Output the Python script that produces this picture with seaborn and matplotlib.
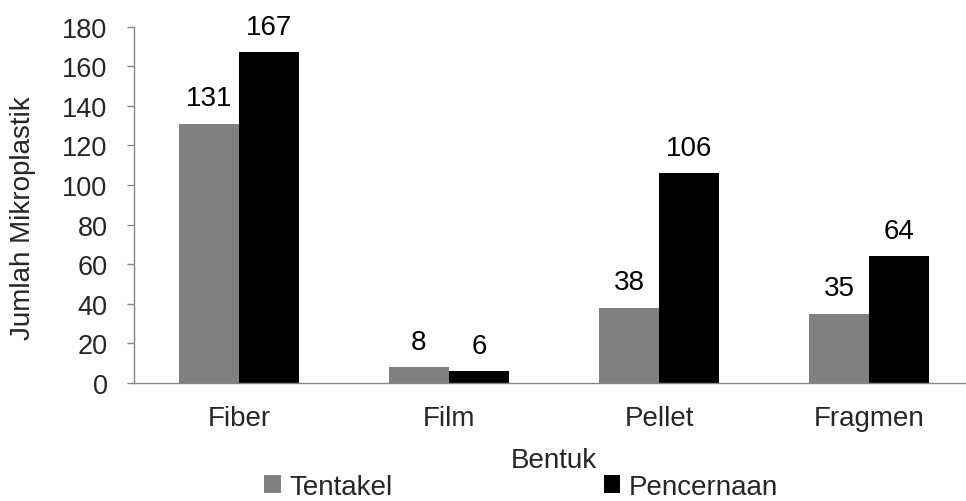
import matplotlib
matplotlib.use("Agg")
import matplotlib.pyplot as plt
import seaborn as sns
import pandas as pd

# Microplastic counts by shape and organ
bentuk = ["Fiber", "Film", "Pellet", "Fragmen"]
tentakel = [131, 8, 38, 35]
pencernaan = [167, 6, 106, 64]
series_names = ["Tentakel", "Pencernaan"]
y_ticks = [0, 20, 40, 60, 80, 100, 120, 140, 160, 180]

df = pd.DataFrame({
    "Bentuk": bentuk * 2,
    "Jumlah": tentakel + pencernaan,
    "Organ": [series_names[0]] * len(bentuk) + [series_names[1]] * len(bentuk),
})

sns.set_style("white")
plt.rcParams["font.family"] = ["Liberation Sans", "DejaVu Sans"]
FS = 20

W, H = 966, 502
fig = plt.figure(figsize=(W / 100, H / 100), dpi=100)
left, right, bottom, top = 134, 974, 384, 27.7
ax = fig.add_axes([left / W, (H - bottom) / H, (right - left) / W, (bottom - top) / H])

palette = {"Tentakel": "#808080", "Pencernaan": "#000000"}
sns.barplot(data=df, x="Bentuk", y="Jumlah", hue="Organ", order=bentuk,
            hue_order=series_names, palette=palette, width=0.572, gap=0,
            saturation=1, linewidth=0, ax=ax)

for cont in ax.containers:
    ax.bar_label(cont, padding=9, fontsize=FS, color="black")

ax.set_ylim(0, 180)
ax.set_xlim(-0.5, len(bentuk) - 0.5)
ax.set_yticks(y_ticks)
ax.set_yticklabels([str(v) for v in y_ticks], fontsize=19.5)

# category boundaries carry the tick marks on the x axis
ax.set_xticks(range(len(bentuk)))
ax.set_xticklabels(bentuk, fontsize=FS)
ax.set_xticks([i - 0.5 for i in range(len(bentuk) + 1)], minor=True)
ax.tick_params(axis="x", which="major", length=0, pad=16)
ax.tick_params(axis="x", which="minor", length=5, width=1, color="#868686", direction="out")
ax.tick_params(axis="y", length=5, width=1, color="#868686", direction="out", pad=14, left=True)

for side in ["top", "right"]:
    ax.spines[side].set_visible(False)
for side in ["left", "bottom"]:
    ax.spines[side].set_color("#868686")
    ax.spines[side].set_linewidth(1)

ax.set_xlabel("Bentuk", fontsize=FS)
ax.xaxis.label.set_va("center")
ax.xaxis.set_label_coords(0.5, (bottom - 461) / (bottom - top))
ax.set_ylabel("Jumlah Mikroplastik", fontsize=FS)
ax.yaxis.label.set_va("center")
ax.yaxis.set_label_coords((23 - left) / (right - left), (bottom - 218) / (bottom - top))

handles, labels = ax.get_legend_handles_labels()
if ax.legend_:
    ax.legend_.remove()
fig.legend(handles, labels, loc="center", bbox_to_anchor=(521 / W, (H - 488) / H),
           ncol=2, frameon=False, fontsize=FS, handlelength=0.6, handleheight=0.6,
           handletextpad=0.3, columnspacing=7.6, borderpad=0, borderaxespad=0)

fig.savefig("out.png", dpi=100)
